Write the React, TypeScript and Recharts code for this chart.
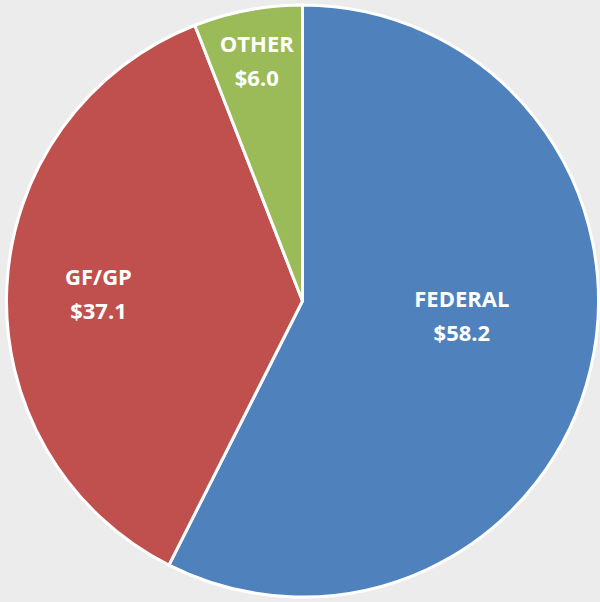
import React from "react";
import { PieChart, Pie, Cell } from "recharts";

const categories = ["FEDERAL", "GF/GP", "OTHER"];
const values = [58.2, 37.1, 6.0];
const colors = ["#4F81BD", "#C0504D", "#9BBB59"];

const data = categories.map((name, i) => ({ name, value: values[i] }));

const RAD = Math.PI / 180;
const labelRadiusFactor: Record<string, number> = { FEDERAL: 0.54, "GF/GP": 0.69, OTHER: 0.835 };
const labelAngleShift: Record<string, number> = { FEDERAL: 9, "GF/GP": 0, OTHER: 0 };

const renderLabel = (props: any) => {
  const { cx, cy, midAngle, outerRadius, name, value } = props;
  const r = outerRadius * (labelRadiusFactor[name] ?? 0.6);
  const a = (midAngle + (labelAngleShift[name] ?? 0)) * RAD;
  const x = cx + r * Math.cos(a);
  const y = cy - r * Math.sin(a);
  return (
    <text
      x={x}
      y={y}
      fill="#ffffff"
      textAnchor="middle"
      fontFamily="'Open Sans', 'Noto Sans', sans-serif"
      fontWeight="bold"
      fontSize={22}
    >
      <tspan x={x} dy="-0.3em">{name}</tspan>
      <tspan x={x} dy="1.55em">{"$" + Number(value).toFixed(1)}</tspan>
    </text>
  );
};

export default function App() {
  return (
    <div style={{ position: "absolute", left: 0, top: 0, width: 600, height: 602, background: "#ececec" }}>
      <PieChart width={600} height={602} margin={{ top: 0, right: 0, bottom: 0, left: 0 }}>
        <Pie
          data={data}
          dataKey="value"
          nameKey="name"
          cx={302.5}
          cy={301}
          outerRadius={296}
          startAngle={90}
          endAngle={-270}
          stroke="#ffffff"
          strokeWidth={3}
          label={renderLabel}
          labelLine={false}
          isAnimationActive={false}
        >
          {data.map((d, i) => (
            <Cell key={d.name} fill={colors[i]} />
          ))}
        </Pie>
      </PieChart>
    </div>
  );
}
